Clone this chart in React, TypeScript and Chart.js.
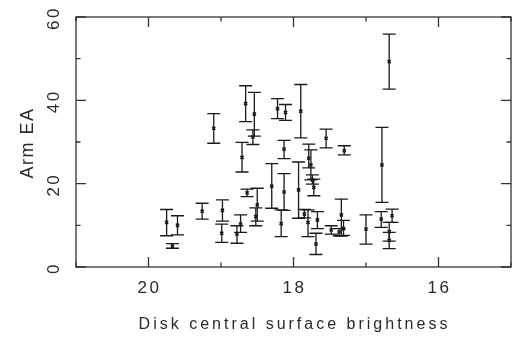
import React, { useEffect, useRef } from "react";
import { Chart, registerables } from "chart.js";

Chart.register(...registerables);

// Disk central surface brightness (x)
const brightness = [
  19.75, 19.67, 19.6, 19.26, 19.1, 18.98, 18.99, 18.78, 18.73, 18.71,
  18.66, 18.64, 18.56, 18.54, 18.5, 18.52, 18.3, 18.22, 18.17, 18.13,
  18.13, 18.11, 17.93, 17.9, 17.85, 17.8, 17.79, 17.76, 17.74, 17.72,
  17.69, 17.67, 17.55, 17.48, 17.37, 17.34, 17.31, 17.3, 17.0, 16.79,
  16.78, 16.68, 16.68, 16.68, 16.64,
];
// Arm EA (y)
const armEA = [
  10.7, 5.0, 10.0, 13.4, 33.3, 13.6, 8.1, 7.9, 10.3, 26.3,
  39.2, 17.8, 31.2, 36.7, 14.9, 12.1, 19.4, 38.0, 10.4, 28.3,
  18.0, 37.1, 18.5, 37.4, 12.7, 10.7, 26.1, 24.5, 20.9, 19.1,
  5.5, 11.3, 30.9, 8.9, 8.4, 12.5, 9.2, 27.9, 9.1, 11.5,
  24.5, 49.3, 8.5, 6.4, 12.3,
];
// error bar upper ends
const errHigh = [
  13.8, 5.6, 12.3, 15.3, 36.8, 16.1, 10.3, 9.9, 12.5, 29.9,
  43.5, 18.7, 32.9, 41.9, 18.9, 14.2, 24.8, 40.4, 13.7, 30.4,
  22.4, 39.0, 25.2, 43.8, 13.8, 13.7, 29.5, 28.1, 22.1, 21.1,
  8.1, 13.3, 33.1, 9.9, 9.2, 16.3, 11.2, 29.1, 12.5, 13.3,
  33.5, 55.9, 10.7, 8.3, 13.9,
];
// error bar lower ends
const errLow = [
  7.5, 4.5, 7.7, 11.5, 29.7, 11.0, 5.9, 5.7, 8.3, 22.8,
  34.9, 16.9, 29.4, 31.4, 11.0, 9.9, 14.1, 35.6, 7.3, 26.0,
  13.6, 35.2, 11.7, 31.0, 11.8, 7.3, 23.8, 20.9, 19.9, 17.1,
  3.0, 9.2, 28.6, 7.9, 7.5, 7.4, 7.6, 26.9, 5.5, 9.5,
  15.5, 42.7, 6.2, 4.4, 10.7,
];

const xTickLabels = [20, 18, 16];
const xMinorTicks = [21, 19, 17, 15];
const yTickLabels = [0, 20, 40, 60];
const yMinorTicks = [10, 30, 50];
const xTitle = "Disk central surface brightness";
const yTitle = "Arm EA";

const INK = "#1a1a1a";

const framePlugin = {
  id: "framePlugin",
  beforeDatasetsDraw(chart: any) {
    const { ctx, scales } = chart;
    const xs = scales.x;
    const ys = scales.y;
    ctx.save();
    ctx.strokeStyle = INK;
    ctx.lineWidth = 1.3;
    const cap = 6.5;
    for (let i = 0; i < brightness.length; i++) {
      const px = xs.getPixelForValue(brightness[i]);
      const hi = ys.getPixelForValue(errHigh[i]);
      const lo = ys.getPixelForValue(errLow[i]);
      ctx.beginPath();
      ctx.moveTo(px, hi);
      ctx.lineTo(px, lo);
      ctx.moveTo(px - cap, hi);
      ctx.lineTo(px + cap, hi);
      ctx.moveTo(px - cap, lo);
      ctx.lineTo(px + cap, lo);
      ctx.stroke();
    }
    ctx.restore();
  },
  afterDraw(chart: any) {
    const { ctx, chartArea, scales } = chart;
    const xs = scales.x;
    const ys = scales.y;
    const { left, right, top, bottom } = chartArea;
    ctx.save();
    ctx.strokeStyle = "#333";
    ctx.lineWidth = 1.3;
    ctx.strokeRect(left, top, right - left, bottom - top);

    ctx.beginPath();
    const major = 10;
    const minor = 4.5;
    for (const v of xTickLabels) {
      const p = xs.getPixelForValue(v);
      ctx.moveTo(p, bottom); ctx.lineTo(p, bottom - major);
      ctx.moveTo(p, top); ctx.lineTo(p, top + major);
    }
    for (const v of xMinorTicks) {
      const p = xs.getPixelForValue(v);
      ctx.moveTo(p, bottom); ctx.lineTo(p, bottom - minor);
      ctx.moveTo(p, top); ctx.lineTo(p, top + minor);
    }
    for (const v of yTickLabels) {
      const p = ys.getPixelForValue(v);
      ctx.moveTo(left, p); ctx.lineTo(left + major, p);
      ctx.moveTo(right, p); ctx.lineTo(right - major, p);
    }
    for (const v of yMinorTicks) {
      const p = ys.getPixelForValue(v);
      ctx.moveTo(left, p); ctx.lineTo(left + minor, p);
      ctx.moveTo(right, p); ctx.lineTo(right - minor, p);
    }
    ctx.stroke();

    ctx.fillStyle = "#2a2a2a";
    ctx.textAlign = "center";
    ctx.textBaseline = "middle";
    ctx.font = '17px "Liberation Sans"';
    (ctx as any).letterSpacing = "2.5px";
    for (const v of xTickLabels) {
      const p = xs.getPixelForValue(v);
      ctx.fillText(String(v), p + 1, 288);
    }
    for (const v of yTickLabels) {
      const p = ys.getPixelForValue(v);
      ctx.save();
      ctx.translate(54, p + 1);
      ctx.rotate(-Math.PI / 2);
      ctx.fillText(String(v), 0, 0);
      ctx.restore();
    }
    ctx.font = '16px "Liberation Sans"';
    (ctx as any).letterSpacing = "3px";
    ctx.fillText(xTitle, (left + right) / 2 + 1, 325);
    ctx.font = '18px "Liberation Sans"';
    (ctx as any).letterSpacing = "1.5px";
    ctx.save();
    ctx.translate(28, 143);
    ctx.rotate(-Math.PI / 2);
    ctx.fillText(yTitle, 0, 0);
    ctx.restore();
    ctx.restore();
  },
};

export default function App() {
  const ref = useRef<HTMLCanvasElement | null>(null);
  useEffect(() => {
    if (!ref.current) return;
    const chart = new Chart(ref.current, {
      type: "scatter",
      data: {
        datasets: [
          {
            data: brightness.map((x, i) => ({ x, y: armEA[i] })),
            pointStyle: "crossRot",
            radius: 2.2,
            borderWidth: 1.6,
            borderColor: INK,
            backgroundColor: INK,
          },
        ],
      },
      options: {
        animation: false,
        responsive: false,
        devicePixelRatio: 1,
        layout: { padding: { left: 76, top: 17, right: 9, bottom: 72 } },
        plugins: { legend: { display: false }, tooltip: { enabled: false } },
        scales: {
          x: { type: "linear", min: 15, max: 21, reverse: true, display: false },
          y: { type: "linear", min: 0, max: 60, display: false },
        },
      },
      plugins: [framePlugin],
    });
    return () => chart.destroy();
  }, []);
  return (
    <div style={{ position: "fixed", left: 0, top: 0, width: 520, height: 339, background: "#fff" }}>
      <canvas ref={ref} width={520} height={339} />
    </div>
  );
}
